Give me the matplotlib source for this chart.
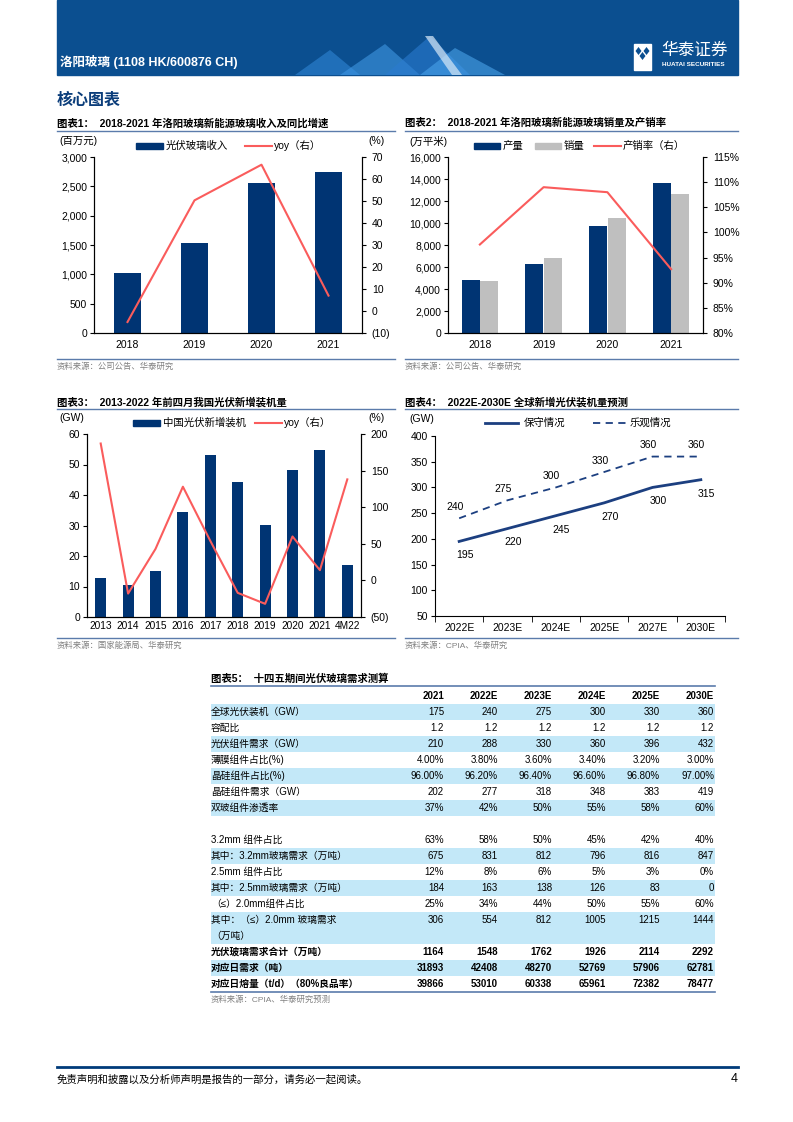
"""
华泰证券 洛阳玻璃 第4页 核心图表
"""
import numpy as np
import matplotlib.pyplot as plt
from matplotlib.patches import Rectangle, Polygon
from matplotlib.lines import Line2D
from matplotlib.ticker import FuncFormatter, MultipleLocator

plt.rcParams['font.family'] = ['Liberation Sans', 'Noto Sans CJK SC']
plt.rcParams['axes.unicode_minus'] = False

# 图表1 数据
years12 = ['2018', '2019', '2020', '2021']
glass_rev = [1020, 1540, 2565, 2745]
glass_rev_yoy = [-5, 50.3, 66.5, 7]

# 图表2 数据
glass_prod = [4850, 6240, 9700, 13600]
glass_sales = [4730, 6850, 10500, 12600]
prod_sales_ratio = [97.6, 109.0, 108.0, 92.7]

# 图表3 数据
years3 = ['2013', '2014', '2015', '2016', '2017', '2018', '2019', '2020', '2021', '4M22']
cn_install = [12.9, 10.6, 15.1, 34.5, 53.0, 44.3, 30.1, 48.2, 54.9, 16.9]
cn_install_yoy = [187, -18, 43, 128, 54, -17, -32, 60, 14, 138]

# 图表4 数据
years4 = ['2022E', '2023E', '2024E', '2025E', '2027E', '2030E']
conservative = [195, 220, 245, 270, 300, 315]
optimistic = [240, 275, 300, 330, 360, 360]

# 图表5 数据
table_cols = ['2021', '2022E', '2023E', '2024E', '2025E', '2030E']
table_labels = ['全球光伏装机（GW）', '容配比', '光伏组件需求（GW）', '薄膜组件占比(%)',
                '晶硅组件占比(%)', '晶硅组件需求（GW）', '双玻组件渗透率', '',
                '3.2mm 组件占比', '其中：3.2mm玻璃需求（万吨）', '2.5mm 组件占比',
                '其中：2.5mm玻璃需求（万吨）', '（≤）2.0mm组件占比',
                '其中：（≤）2.0mm 玻璃需求\n（万吨）', '光伏玻璃需求合计（万吨）',
                '对应日需求（吨）', '对应日熔量（t/d）（80%良品率）']
table_values = [
    ['175', '240', '275', '300', '330', '360'],
    ['1.2', '1.2', '1.2', '1.2', '1.2', '1.2'],
    ['210', '288', '330', '360', '396', '432'],
    ['4.00%', '3.80%', '3.60%', '3.40%', '3.20%', '3.00%'],
    ['96.00%', '96.20%', '96.40%', '96.60%', '96.80%', '97.00%'],
    ['202', '277', '318', '348', '383', '419'],
    ['37%', '42%', '50%', '55%', '58%', '60%'],
    ['', '', '', '', '', ''],
    ['63%', '58%', '50%', '45%', '42%', '40%'],
    ['675', '831', '812', '796', '816', '847'],
    ['12%', '8%', '6%', '5%', '3%', '0%'],
    ['184', '163', '138', '126', '83', '0'],
    ['25%', '34%', '44%', '50%', '55%', '60%'],
    ['306', '554', '812', '1005', '1215', '1444'],
    ['1164', '1548', '1762', '1926', '2114', '2292'],
    ['31893', '42408', '48270', '52769', '57906', '62781'],
    ['39866', '53010', '60338', '65961', '72382', '78477'],
]
table_shaded = [1, 0, 1, 0, 1, 0, 1, 0, 0, 1, 0, 1, 0, 1, 0, 1, 0]
table_bold = [0] * 14 + [1, 1, 1]

NAVY = '#003473'
RED = '#fa5c5c'
GREY = '#bfbfbf'
HEAD = '#0b4f90'
RULE = '#5b7bab'
SHADE = '#c3e8f8'
SRC = '#808080'

W, H = 793, 1122
fig = plt.figure(figsize=(W / 100, H / 100), dpi=100)


def rect(x0, y0, x1, y1):
    return [x0 / W, 1 - y1 / H, (x1 - x0) / W, (y1 - y0) / H]


def ftext(x, y, s, **kw):
    kw.setdefault('va', 'center')
    fig.text(x / W, 1 - y / H, s, **kw)


def hline(x0, x1, y, color=RULE, lw=1.0):
    fig.add_artist(Line2D([x0 / W, x1 / W], [1 - y / H, 1 - y / H], color=color, lw=lw))


def leg_box(x0, x1, y, color):
    fig.add_artist(Rectangle((x0 / W, 1 - (y + 3) / H), (x1 - x0) / W, 6 / H, color=color))


def leg_line(x0, x1, y, color, ls='-', lw=1.5):
    fig.add_artist(Line2D([x0 / W, x1 / W], [1 - y / H, 1 - y / H], color=color, lw=lw, ls=ls))


def paren(v, p):
    return f'({-v:.0f})' if v < 0 else f'{v:.0f}'


def style(ax, right=None):
    ax.spines['top'].set_visible(False)
    for s in ['left', 'right', 'bottom']:
        ax.spines[s].set_linewidth(0.8)
    ax.tick_params(axis='y', direction='out', length=3, labelsize=7.5, pad=2)
    ax.tick_params(axis='x', length=0, labelsize=7.5, pad=5)
    if right is not None:
        right.spines['top'].set_visible(False)
        right.tick_params(axis='y', direction='out', length=3, labelsize=7.5, pad=4)


# ---------- 页眉 ----------
fig.add_artist(Rectangle((57 / W, 1 - 75 / H), (738 - 57) / W, 75 / H, color=HEAD))
tri = [
    [(295, 75), (330, 50), (360, 75)],
    [(340, 75), (385, 44), (420, 75)],
    [(385, 75), (430, 36), (470, 75)],
    [(420, 75), (455, 48), (505, 75)],
]
tri_col = ['#2f86d6', '#3f97e3', '#2a7bd0', '#4aa3ea']
for t, c in zip(tri, tri_col):
    fig.add_artist(Polygon([(x / W, 1 - y / H) for x, y in t], closed=True, color=c, alpha=0.6, lw=0))
fig.add_artist(Polygon([(x / W, 1 - y / H) for x, y in [(425, 36), (433, 36), (462, 75), (452, 75)]],
                       closed=True, color='#d8e8f6', alpha=0.7, lw=0))
ftext(60, 62, '洛阳玻璃 (1108 HK/600876 CH)', color='white', fontsize=9, fontweight='bold')
fig.add_artist(Rectangle((634 / W, 1 - 70 / H), 17 / W, 26 / H, color='white'))
for cx, cy in [(638.5, 51), (646.5, 51), (642.5, 56)]:
    fig.add_artist(Polygon([((cx - 3) / W, 1 - cy / H), (cx / W, 1 - (cy - 4) / H),
                            ((cx + 3) / W, 1 - cy / H), (cx / W, 1 - (cy + 4) / H)],
                           closed=True, color=HEAD, lw=0))
ftext(661, 50, '华泰证券', color='white', fontsize=12)
ftext(662, 65, 'HUATAI SECURITIES', color='white', fontsize=4.6, fontweight='bold')

ftext(57, 100, '核心图表', color='#0b3d7a', fontsize=11.5, fontweight='bold')

# ---------- 图表1 ----------
ftext(57, 123, '图表1：  2018-2021 年洛阳玻璃新能源玻璃收入及同比增速', fontsize=7.5, fontweight='bold')
hline(57, 395, 131)
ax1 = fig.add_axes(rect(94, 157, 362, 333))
x = np.arange(len(years12))
ax1.bar(x, glass_rev, width=0.4, color=NAVY)
ax1.set_xlim(-0.5, 3.5)
ax1.set_ylim(0, 3000)
ax1.yaxis.set_major_locator(MultipleLocator(500))
ax1.yaxis.set_major_formatter(FuncFormatter(lambda v, p: f'{v:,.0f}'))
ax1.set_xticks(x)
ax1.set_xticklabels(years12)
ax1r = ax1.twinx()
ax1r.plot(x, glass_rev_yoy, color=RED, lw=1.5)
ax1r.set_ylim(-10, 70)
ax1r.yaxis.set_major_locator(MultipleLocator(10))
ax1r.yaxis.set_major_formatter(FuncFormatter(paren))
style(ax1, ax1r)
ftext(59, 141, '(百万元)', fontsize=7.5)
ftext(368, 141, '(%)', fontsize=7.5)
leg_box(136, 163, 146, NAVY)
ftext(166, 146, '光伏玻璃收入', fontsize=7.5)
leg_line(245, 272, 146, RED)
ftext(274, 146, 'yoy（右）', fontsize=7.5)
hline(57, 395, 359)
ftext(57, 367, '资料来源：公司公告、华泰研究', fontsize=6, color=SRC)

# ---------- 图表2 ----------
ftext(405, 123, '图表2：  2018-2021 年洛阳玻璃新能源玻璃销量及产销率', fontsize=7.5, fontweight='bold')
hline(405, 738, 131)
ax2 = fig.add_axes(rect(448, 157, 703, 333))
ax2.bar(x - 0.145, glass_prod, width=0.28, color=NAVY)
ax2.bar(x + 0.145, glass_sales, width=0.28, color=GREY)
ax2.set_xlim(-0.5, 3.5)
ax2.set_ylim(0, 16000)
ax2.yaxis.set_major_locator(MultipleLocator(2000))
ax2.yaxis.set_major_formatter(FuncFormatter(lambda v, p: f'{v:,.0f}'))
ax2.set_xticks(x)
ax2.set_xticklabels(years12)
ax2r = ax2.twinx()
ax2r.plot(x, prod_sales_ratio, color=RED, lw=1.5)
ax2r.set_ylim(80, 115)
ax2r.yaxis.set_major_locator(MultipleLocator(5))
ax2r.yaxis.set_major_formatter(FuncFormatter(lambda v, p: f'{v:.0f}%'))
style(ax2, ax2r)
ftext(409, 141, '(万平米)', fontsize=7.5)
leg_box(474, 500, 146, NAVY)
ftext(503, 146, '产量', fontsize=7.5)
leg_box(535, 561, 146, GREY)
ftext(564, 146, '销量', fontsize=7.5)
leg_line(594, 621, 146, RED)
ftext(623, 146, '产销率（右）', fontsize=7.5)
hline(405, 738, 359)
ftext(405, 367, '资料来源：公司公告、华泰研究', fontsize=6, color=SRC)

# ---------- 图表3 ----------
ftext(57, 402, '图表3：  2013-2022 年前四月我国光伏新增装机量', fontsize=7.5, fontweight='bold')
hline(57, 395, 409)
ax3 = fig.add_axes(rect(87, 434, 361, 617))
x3 = np.arange(len(years3))
ax3.bar(x3, cn_install, width=0.4, color=NAVY)
ax3.set_xlim(-0.5, len(years3) - 0.5)
ax3.set_ylim(0, 60)
ax3.yaxis.set_major_locator(MultipleLocator(10))
ax3.set_xticks(x3)
ax3.set_xticklabels(years3)
ax3r = ax3.twinx()
ax3r.plot(x3, cn_install_yoy, color=RED, lw=1.5)
ax3r.set_ylim(-50, 200)
ax3r.yaxis.set_major_locator(MultipleLocator(50))
ax3r.yaxis.set_major_formatter(FuncFormatter(paren))
style(ax3, ax3r)
ax3.tick_params(axis='x', pad=3, labelsize=7.3)
ftext(59, 418, '(GW)', fontsize=7.5)
ftext(368, 418, '(%)', fontsize=7.5)
leg_box(133, 160, 423, NAVY)
ftext(163, 423, '中国光伏新增装机', fontsize=7.5)
leg_line(255, 282, 423, RED)
ftext(284, 423, 'yoy（右）', fontsize=7.5)
hline(57, 395, 638)
ftext(57, 646, '资料来源：国家能源局、华泰研究', fontsize=6, color=SRC)

# ---------- 图表4 ----------
ftext(405, 402, '图表4：  2022E-2030E 全球新增光伏装机量预测', fontsize=7.5, fontweight='bold')
hline(405, 738, 409)
ax4 = fig.add_axes(rect(435, 436, 725, 616))
x4 = np.arange(len(years4))
ax4.plot(x4, conservative, color='#1c3f80', lw=2)
ax4.plot(x4, optimistic, color='#1c3f80', lw=1.3, ls=(0, (4, 3)))
for xi, v in zip(x4, optimistic):
    ax4.annotate(str(v), (xi, v), xytext=(-3, 8), textcoords='offset points',
                 ha='center', va='center', fontsize=7.5)
for xi, v in zip(x4, conservative):
    ax4.annotate(str(v), (xi, v), xytext=(4, -10), textcoords='offset points',
                 ha='center', va='center', fontsize=7.5)
ax4.set_xlim(-0.5, len(years4) - 0.5)
ax4.set_ylim(50, 400)
ax4.yaxis.set_major_locator(MultipleLocator(50))
ax4.set_xticks(x4)
ax4.set_xticklabels(years4)
ax4.set_xticks(np.arange(-0.5, len(years4)), minor=True)
ax4.spines['right'].set_visible(False)
style(ax4)
ax4.tick_params(axis='x', which='minor', direction='out', length=4)
ftext(409, 419, '(GW)', fontsize=7.5)
leg_line(485, 518, 423, '#1c3f80', lw=2)
ftext(524, 423, '保守情况', fontsize=7.5)
leg_line(593, 627, 423, '#1c3f80', ls=(0, (4, 3)), lw=1.3)
ftext(630, 423, '乐观情况', fontsize=7.5)
hline(405, 738, 638)
ftext(405, 646, '资料来源：CPIA、华泰研究', fontsize=6, color=SRC)

# ---------- 图表5 表格 ----------
ftext(211, 679, '图表5：  十四五期间光伏玻璃需求测算', fontsize=7.5, fontweight='bold')
hline(211, 715, 686, lw=1.2)
col_right = [444, 498, 552, 606, 660, 714]
for cx, c in zip(col_right, table_cols):
    ftext(cx, 696, c, fontsize=7, ha='right', fontweight='bold')
y = 704
for lab, vals, sh, bd in zip(table_labels, table_values, table_shaded, table_bold):
    h = 32 if '\n' in lab else 16
    if sh:
        fig.add_artist(Rectangle((211 / W, 1 - (y + h) / H), (715 - 211) / W, h / H, color=SHADE, lw=0))
    fw = 'bold' if bd else 'normal'
    if '\n' in lab:
        l1, l2 = lab.split('\n')
        ftext(211, y + 8, l1, fontsize=7, fontweight=fw)
        ftext(211, y + 24, l2, fontsize=7, fontweight=fw)
    else:
        ftext(211, y + 8, lab, fontsize=7, fontweight=fw)
    for cx, v in zip(col_right, vals):
        ftext(cx, y + 8, v, fontsize=7, ha='right', fontweight=fw)
    y += h
hline(211, 715, y, lw=1.2)
ftext(211, y + 8, '资料来源：CPIA、华泰研究预测', fontsize=6, color=SRC)

# ---------- 页脚 ----------
hline(57, 738, 1067, color='#003b7a', lw=2)
ftext(57, 1079, '免责声明和披露以及分析师声明是报告的一部分，请务必一起阅读。', fontsize=7.5, style='italic')
ftext(738, 1079, '4', fontsize=9, ha='right')

fig.savefig('out.png', dpi=100)
